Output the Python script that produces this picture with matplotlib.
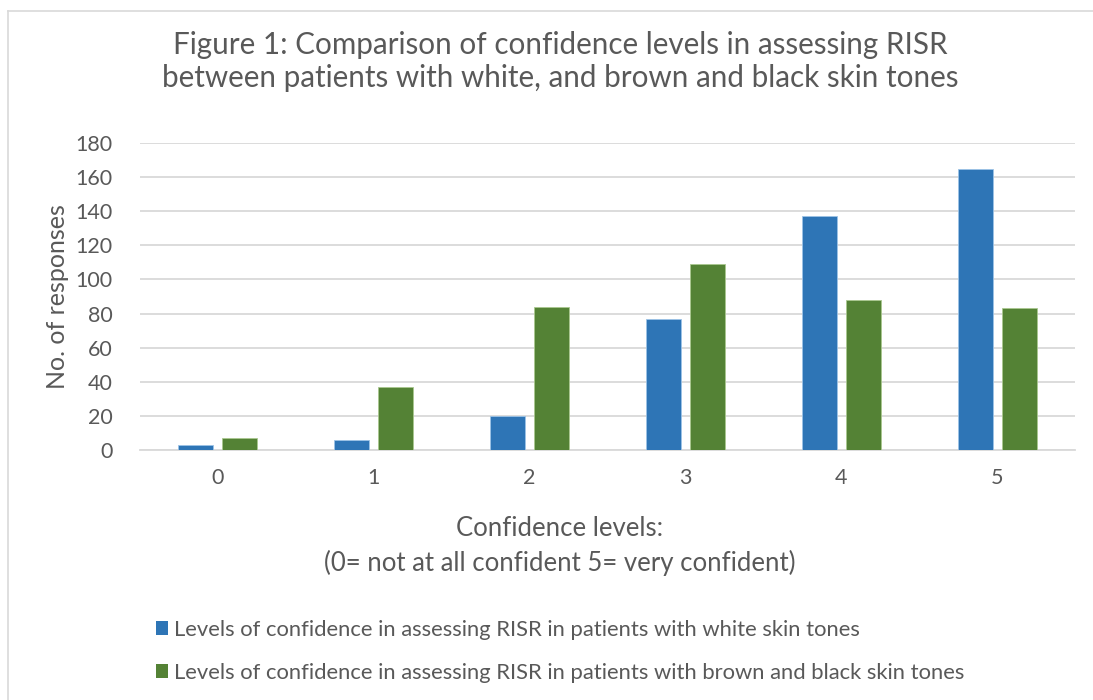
import matplotlib
matplotlib.use("Agg")
import matplotlib.pyplot as plt
import numpy as np
from matplotlib.patches import Patch
from matplotlib.lines import Line2D

categories = ["0", "1", "2", "3", "4", "5"]
white_tones = [3, 6, 20, 77, 137, 165]
brown_black_tones = [7, 37, 84, 109, 88, 83]
series_labels = [
    "Levels of confidence in assessing RISR in patients with white skin tones",
    "Levels of confidence in assessing RISR in patients with brown and black skin tones",
]
yticks = [0, 20, 40, 60, 80, 100, 120, 140, 160, 180]

TXT = "#595959"
BLUE = "#2E75B6"
GREEN = "#548235"
GRID = "#D9D9D9"
plt.rcParams["font.family"] = ["Lato", "DejaVu Sans"]

fig = plt.figure(figsize=(10.93, 7.0), dpi=100)
ax = fig.add_axes([140/1093, 1-450/700, (1075-140)/1093, (450-143)/700])

x = np.arange(len(categories))
w = 0.225
off = 0.141
ax.bar(x - off, white_tones, w, color=BLUE, edgecolor="#9DC3E6", linewidth=0.6, zorder=3)
ax.bar(x + off, brown_black_tones, w, color=GREEN, edgecolor="#A9C88F", linewidth=0.6, zorder=3)

ax.set_xlim(-0.5, 5.5)
ax.set_ylim(0, 180)
ax.set_yticks(yticks)
ax.set_xticks(x)
ax.set_xticklabels(categories)
ax.yaxis.grid(True, color=GRID, linewidth=1.3, zorder=0)
ax.set_axisbelow(True)
for s in ["top", "right", "left"]:
    ax.spines[s].set_visible(False)
ax.spines["bottom"].set_color(GRID)
ax.spines["bottom"].set_linewidth(1.3)
ax.tick_params(axis="both", length=0, colors=TXT, labelsize=15.5)
ax.tick_params(axis="y", pad=19.5)
ax.tick_params(axis="x", pad=13)

ax.set_ylabel("No. of responses", color=TXT, fontsize=18, labelpad=5)
fig.text(0.512, 1-529/700, "Confidence levels:", ha="center", va="center", color=TXT, fontsize=18.5)
fig.text(0.512, 1-563/700, "(0= not at all confident 5= very confident)", ha="center", va="center", color=TXT, fontsize=18.5)

fig.text(0.513, 1-45/700, "Figure 1: Comparison of confidence levels in assessing RISR", ha="center", va="center", color=TXT, fontsize=21.3)
fig.text(0.513, 1-78/700, "between patients with white, and brown and black skin tones", ha="center", va="center", color=TXT, fontsize=21.3)

handles = [Patch(facecolor=BLUE, edgecolor="none"), Patch(facecolor=GREEN, edgecolor="none")]
fig.legend(handles, series_labels, loc="upper left", bbox_to_anchor=(147/1093, 1-611/700),
           frameon=False, fontsize=15.8, labelcolor=TXT, handlelength=0.55, handleheight=0.55,
           handletextpad=0.3, labelspacing=1.05, borderaxespad=0)

# outer chart border (left and top visible)
fig.add_artist(Line2D([8/1093, 8/1093], [0, 1-11/700], transform=fig.transFigure, color="#D9D9D9", linewidth=1.2))
fig.add_artist(Line2D([8/1093, 1], [1-11/700, 1-11/700], transform=fig.transFigure, color="#D9D9D9", linewidth=1.2))

fig.savefig("out.png", dpi=100, facecolor="white")
